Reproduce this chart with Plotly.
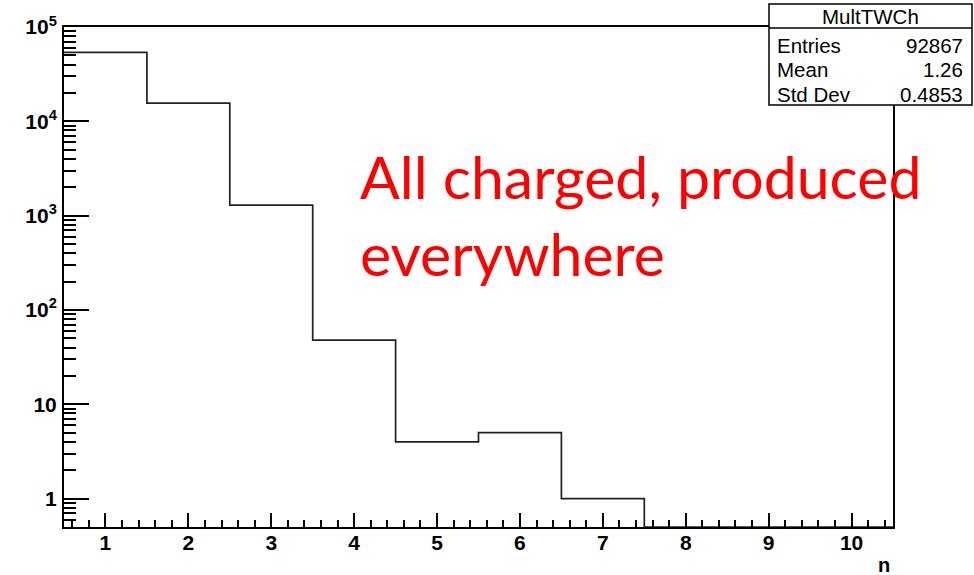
import math
import plotly.graph_objects as go

# ---- data ----
bin_centers = [1, 2, 3, 4, 5, 6, 7, 8, 9, 10]
counts = [53700, 15600, 1290, 48, 4, 5, 1, 0, 0, 0]
y_tickvals = [1, 10, 100, 1000, 10000, 100000]
y_ticktext = ["1", "10", "10<sup>2</sup>", "10<sup>3</sup>", "10<sup>4</sup>", "10<sup>5</sup>"]
x_tickvals = [1, 2, 3, 4, 5, 6, 7, 8, 9, 10]
stats_title = "MultTWCh"
stats_labels = ["Entries", "Mean", "Std Dev"]
stats_values = ["92867", "1.26", "0.4853"]
note_lines = ["All charged, produced", "everywhere"]

# ---- geometry ----
W, H = 974, 575
L, R, T, B = 64, 81, 27, 48
pw, ph = W - L - R, H - T - B
x_range = [0.5, 10.5]
y_min, y_max = 0.5, 100000
y_range = [math.log10(y_min), math.log10(y_max)]

def px_x(x):
    return (x - L) / pw

def px_y(y):
    return (H - B - y) / ph

# step histogram built from bin edges
edges_x = [c - 0.5 for c in bin_centers] + [bin_centers[-1] + 0.5]
step_y = [max(c, y_min) for c in counts]
step_y = step_y + [step_y[-1]]

minor_vals = [m * 10 ** k for k in range(-1, 5) for m in range(2, 10)]
minor_vals = [v for v in minor_vals if y_min < v < y_max]

fig = go.Figure()
fig.add_trace(go.Scatter(
    x=edges_x, y=step_y, mode="lines", line_shape="hv",
    line=dict(color="#222222", width=1.7), showlegend=False, hoverinfo="skip",
))
# invisible trace for the minor y ticks axis
fig.add_trace(go.Scatter(x=[None], y=[None], yaxis="y2", showlegend=False))

tick_font = dict(family="Liberation Sans, Arial, sans-serif", size=21, color="black", weight="bold")

fig.update_layout(
    width=W, height=H,
    margin=dict(l=L, r=R, t=T, b=B, pad=0),
    paper_bgcolor="white", plot_bgcolor="white",
    xaxis=dict(
        range=x_range, tickvals=x_tickvals, ticks="inside", ticklen=14,
        tickwidth=2, tickcolor="black", showgrid=False, zeroline=False,
        showline=True, linecolor="black", linewidth=2, mirror=True,
        tickfont=tick_font, ticklabelstandoff=-4,
        minor=dict(dtick=0.2, ticks="inside", ticklen=7, tickwidth=1.5, tickcolor="black", showgrid=False),
    ),
    yaxis=dict(
        type="log", range=y_range, tickvals=y_tickvals, ticktext=y_ticktext,
        ticks="inside", ticklen=25, tickwidth=2, tickcolor="black",
        showgrid=False, zeroline=False, showline=True, linecolor="black",
        linewidth=2, mirror=True, tickfont=tick_font, ticklabelstandoff=1,
    ),
    yaxis2=dict(
        type="log", range=y_range, overlaying="y", side="left",
        tickvals=minor_vals, showticklabels=False, ticks="inside", ticklen=12,
        tickwidth=2, tickcolor="black", showgrid=False, zeroline=False,
        showline=False,
    ),
)

# axis title "n" at right end
fig.add_annotation(
    text="n", xref="paper", yref="paper", x=px_x(884), y=px_y(565),
    showarrow=False, xanchor="center", yanchor="middle",
    font=dict(family="Liberation Sans, Arial, sans-serif", size=20, color="black", weight="bold"),
)

# stats box
bx0, bx1, by0, by1 = 769, 972, 4, 105
fig.add_shape(type="rect", xref="paper", yref="paper",
              x0=px_x(bx0), x1=px_x(bx1), y0=px_y(by1), y1=px_y(by0),
              line=dict(color="black", width=1.5), fillcolor="white", layer="above")
fig.add_shape(type="line", xref="paper", yref="paper",
              x0=px_x(bx0), x1=px_x(bx1), y0=px_y(28), y1=px_y(28),
              line=dict(color="black", width=1.5), layer="above")
stat_font = dict(family="Liberation Sans, Arial, sans-serif", size=20.5, color="black")
fig.add_annotation(text=stats_title, xref="paper", yref="paper",
                   x=px_x((bx0 + bx1) / 2), y=px_y(17), showarrow=False,
                   xanchor="center", yanchor="middle", font=stat_font)
row_y = [45, 70, 94]
for lab, val, ry in zip(stats_labels, stats_values, row_y):
    fig.add_annotation(text=lab, xref="paper", yref="paper", x=px_x(775), y=px_y(ry),
                       showarrow=False, xanchor="left", yanchor="middle", font=stat_font)
    fig.add_annotation(text=val, xref="paper", yref="paper", x=px_x(965), y=px_y(ry),
                       showarrow=False, xanchor="right", yanchor="middle", font=stat_font)

# red note
note_font = dict(family="Lato, Open Sans, sans-serif", size=59, color="#ff0000")
for line, ly in zip(note_lines, [176, 254]):
    fig.add_annotation(text=line, xref="paper", yref="paper", x=px_x(358), y=px_y(ly),
                       showarrow=False, xanchor="left", yanchor="middle", font=note_font)

fig.write_html("out.html", config={"displayModeBar": False},
               post_script="document.body.style.margin='0';document.body.style.overflow='hidden';")
